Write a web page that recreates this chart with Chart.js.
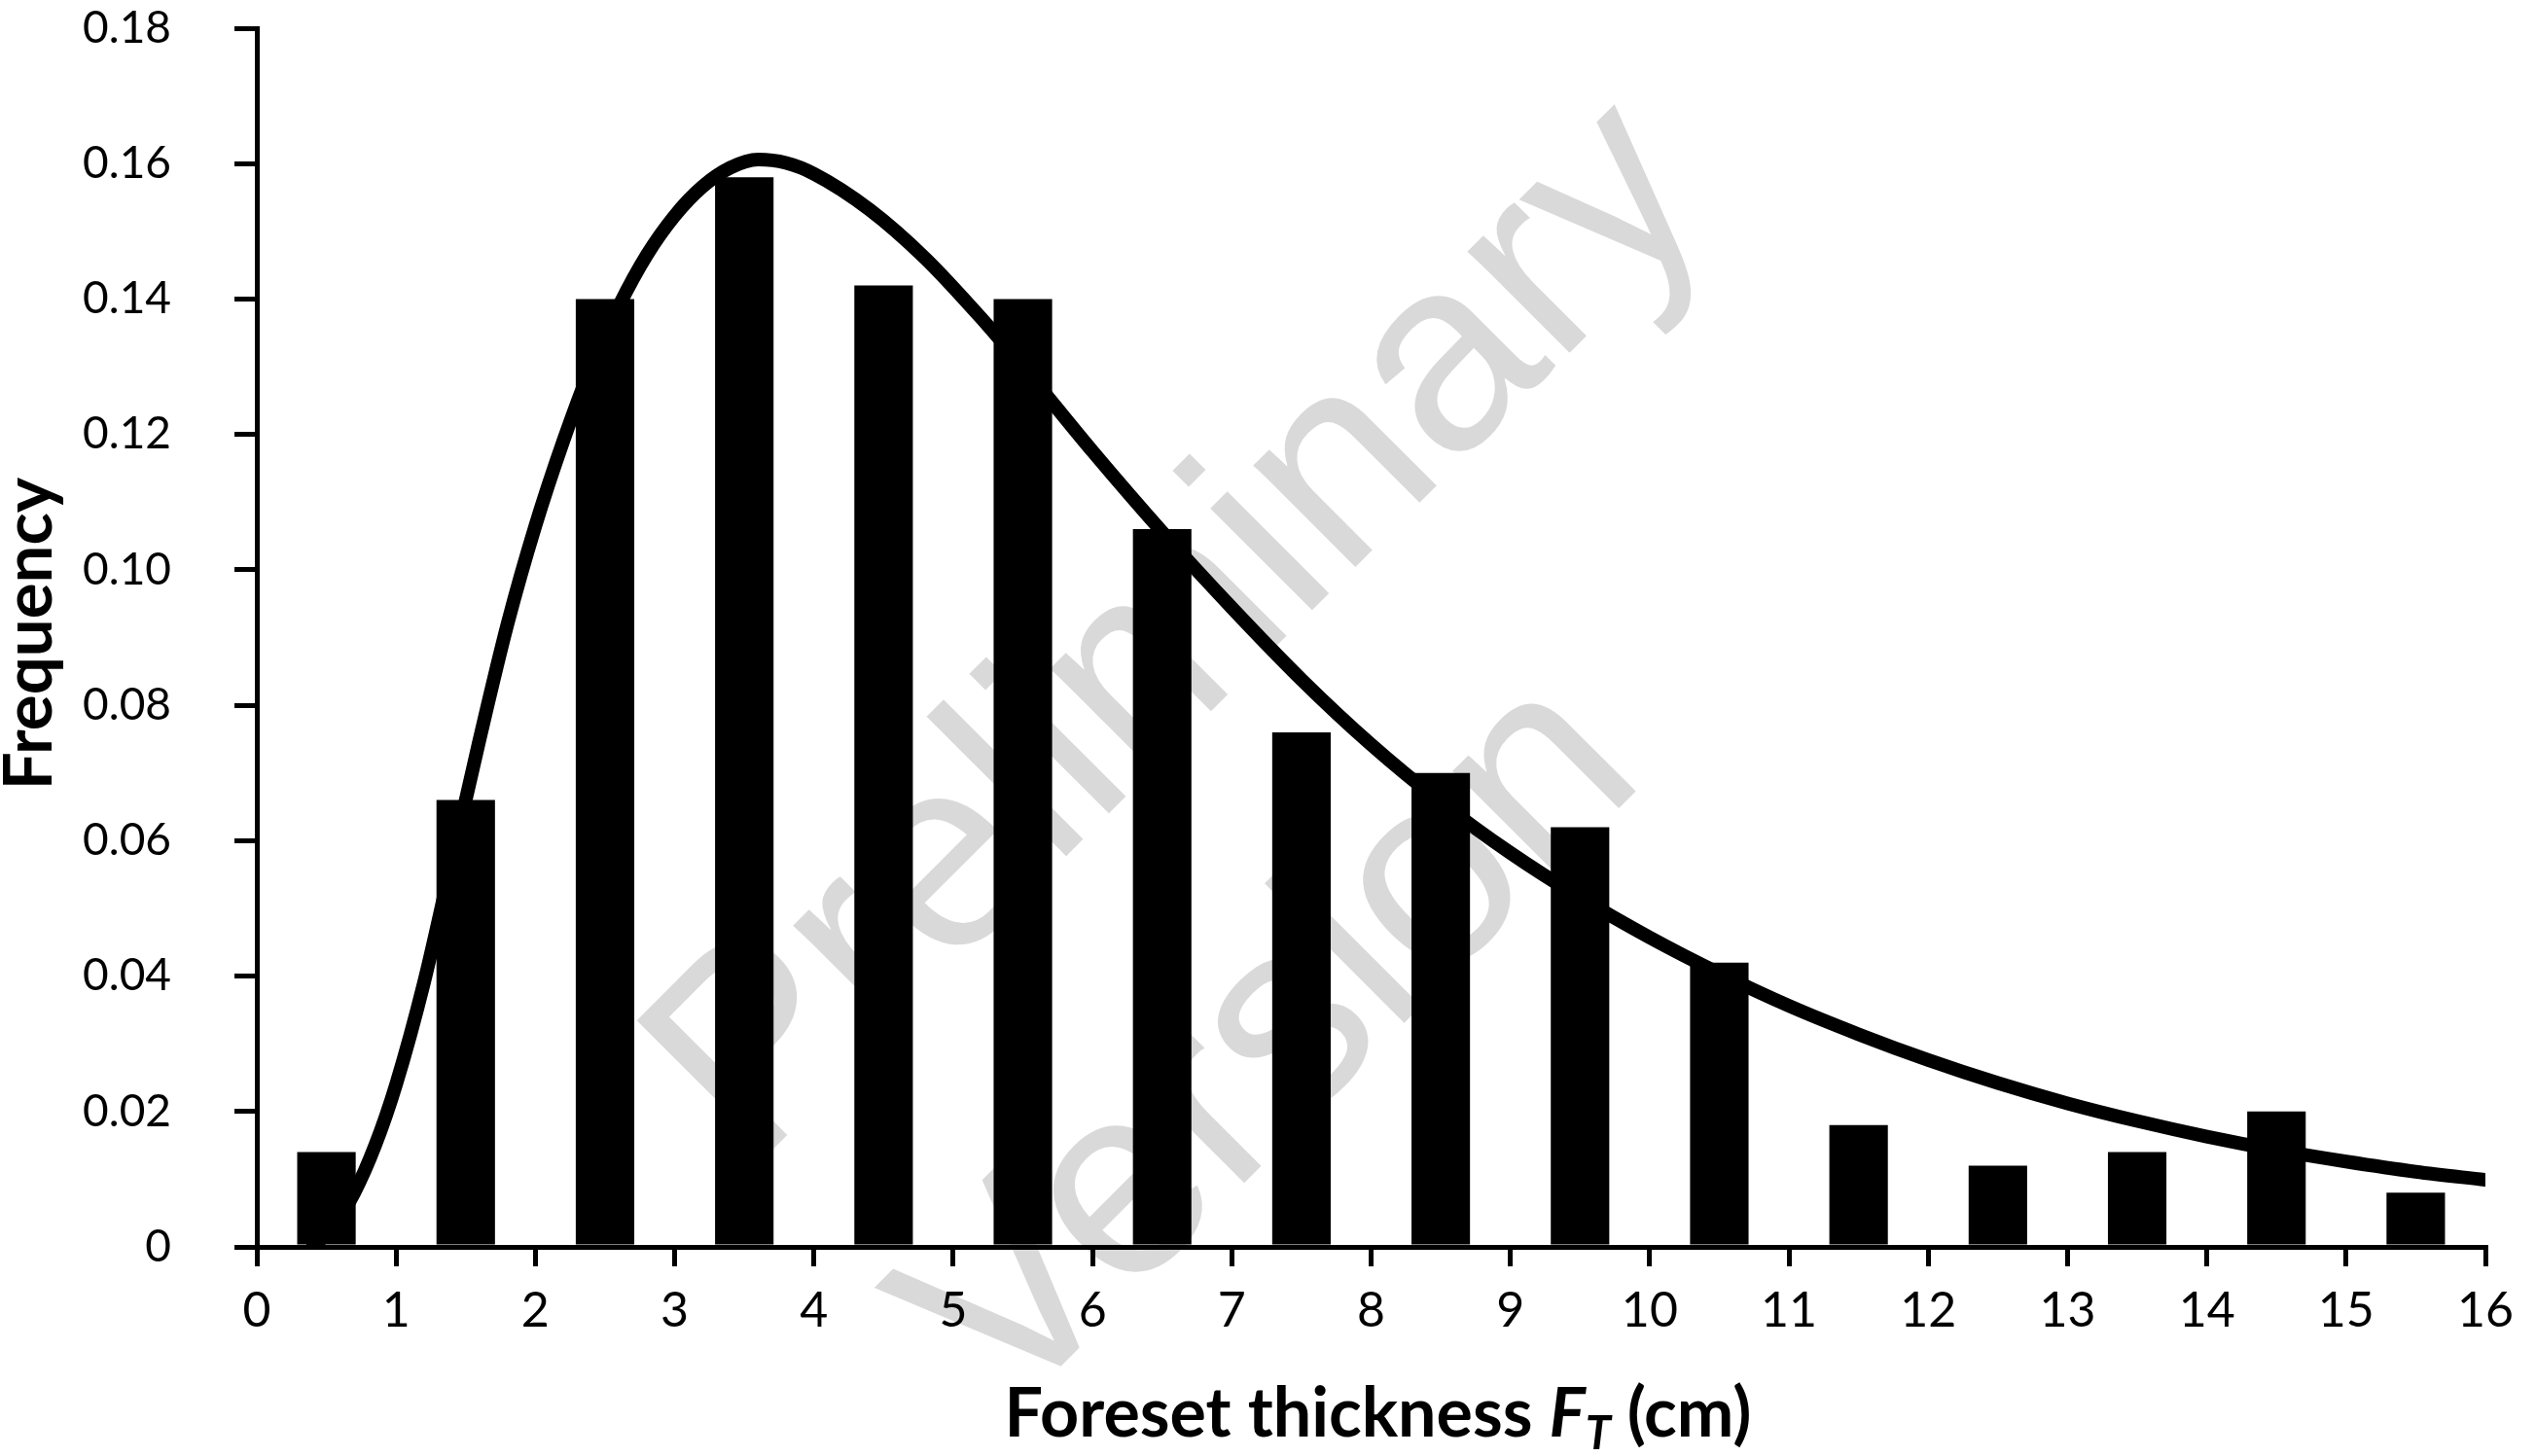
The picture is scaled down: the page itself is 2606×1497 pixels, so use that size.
<!DOCTYPE html>
<html>
<head>
<meta charset="utf-8">
<script src="https://cdn.jsdelivr.net/npm/chart.js@4.4.1/dist/chart.umd.min.js"></script>
<style>
  html, body { margin: 0; padding: 0; background: #fff; }
  #wrap { width: 2606px; height: 1497px; position: relative; }
</style>
</head>
<body>
<div id="wrap"><canvas id="chart"></canvas></div>
<script>
// histogram bins (cm) and their frequencies
const binCenters = [0.5, 1.5, 2.5, 3.5, 4.5, 5.5, 6.5, 7.5, 8.5, 9.5, 10.5, 11.5, 12.5, 13.5, 14.5, 15.5];
const frequency  = [0.014, 0.066, 0.140, 0.158, 0.142, 0.140, 0.106, 0.076, 0.070, 0.062, 0.042, 0.018, 0.012, 0.014, 0.020, 0.008];

// fitted curve, sampled by eye along the drawn line
const fitX = [0.4, 0.55, 0.7, 0.85, 1.0, 1.2, 1.4, 1.6, 1.8, 2.0, 2.2, 2.4, 2.6, 2.8, 3.0, 3.2, 3.4, 3.6, 3.8, 4.0, 4.4, 4.8, 5.2, 5.5, 6.0, 6.5, 7.0, 7.5, 8.0, 8.5, 9.0, 9.5, 10.0, 10.5, 11.0, 11.5, 12.0, 12.5, 13.0, 13.5, 14.0, 14.5, 15.0, 15.5, 16.0];
const fitY = [0, 0.003, 0.008, 0.015, 0.024, 0.039, 0.057, 0.075, 0.092, 0.1065, 0.119, 0.130, 0.139, 0.1465, 0.1523, 0.1566, 0.1594, 0.1606, 0.1601, 0.1585, 0.1532, 0.1460, 0.1372, 0.1300, 0.1175, 0.1056, 0.0944, 0.0838, 0.0742, 0.0657, 0.0582, 0.0516, 0.0457, 0.0404, 0.0356, 0.0314, 0.0276, 0.0242, 0.0212, 0.0186, 0.0163, 0.0143, 0.0126, 0.0111, 0.0099];

const xRange = [0, 16];
const yRange = [0, 0.18];
const yStep = 0.02;

const xTitle = ['Foreset thickness ', 'F', 'T', ' (cm)'];
const yTitle = 'Frequency';
const watermark = ['Preliminary', 'Version'];

// titles (mixed italic/subscript) and the grey watermark are drawn by hand
const extras = {
  id: 'extras',
  beforeDraw(chart) {
    const ctx = chart.ctx;
    ctx.save();
    ctx.fillStyle = '#fff';
    ctx.fillRect(0, 0, chart.width, chart.height);
    ctx.translate(720, 1147);
    ctx.rotate(-Math.PI / 4);
    ctx.fillStyle = '#d9d9d9';
    ctx.font = '280px "Liberation Sans", Arial, sans-serif';
    ctx.textAlign = 'left';
    ctx.textBaseline = 'middle';
    ctx.fillText(watermark[0], 0, 0);
    ctx.fillText(watermark[1], 0, 367);
    ctx.restore();
  },
  afterDraw(chart) {
    const ctx = chart.ctx;
    const area = chart.chartArea;
    ctx.save();
    ctx.fillStyle = '#000';
    ctx.textBaseline = 'alphabetic';
    ctx.textAlign = 'left';

    // x title
    const big = 'bold 70px Lato, sans-serif';
    const bigIt = 'italic bold 70px Lato, sans-serif';
    const subIt = 'italic bold 47px Lato, sans-serif';
    const parts = [[xTitle[0], big, 0], [xTitle[1], bigIt, 0], [xTitle[2], subIt, 13], [xTitle[3], big, 0]];
    let total = 0;
    parts.forEach(p => { ctx.font = p[1]; total += ctx.measureText(p[0]).width; });
    let x = (area.left + area.right) / 2 + 7 - total / 2;
    const base = area.bottom + 195;
    parts.forEach(p => {
      ctx.font = p[1];
      ctx.fillText(p[0], x, base + p[2]);
      x += ctx.measureText(p[0]).width;
    });

    // y title
    ctx.translate(53, (area.top + area.bottom) / 2 - 4);
    ctx.rotate(-Math.PI / 2);
    ctx.textAlign = 'center';
    ctx.font = 'bold 69px Lato, sans-serif';
    ctx.fillText(yTitle, 0, 0);
    ctx.restore();
  }
};

const axisStyle = {
  grid: { drawOnChartArea: false, drawTicks: true, color: '#000', lineWidth: 5, offset: false },
  border: { display: true, color: '#000', width: 5 }
};

new Chart(document.getElementById('chart'), {
  type: 'bar',
  data: {
    datasets: [
      {
        type: 'line',
        order: 0,
        data: fitX.map((v, i) => ({ x: v, y: fitY[i] })),
        borderColor: '#000',
        borderWidth: 14,
        borderCapStyle: 'round',
        borderJoinStyle: 'round',
        pointRadius: 0,
        cubicInterpolationMode: 'monotone',
        fill: false
      },
      {
        type: 'bar',
        order: 1,
        data: binCenters.map((v, i) => ({ x: v, y: frequency[i] })),
        backgroundColor: '#000',
        borderWidth: 0,
        categoryPercentage: 1,
        barPercentage: 0.42
      }
    ]
  },
  options: {
    responsive: true,
    maintainAspectRatio: false,
    animation: false,
    layout: { padding: { top: 29, right: 51, left: 0, bottom: 0 } },
    plugins: { legend: { display: false }, tooltip: { enabled: false } },
    scales: {
      x: {
        type: 'linear',
        min: xRange[0],
        max: xRange[1],
        offset: false,
        grid: { ...axisStyle.grid, tickLength: 20 },
        border: axisStyle.border,
        ticks: { stepSize: 1, color: '#000', font: { family: 'Lato', size: 50 }, padding: 16, maxRotation: 0 },
        afterFit(scale) {
          scale.height = 215;
          scale.paddingLeft = 0;
          scale.paddingRight = 0;
        }
      },
      y: {
        min: yRange[0],
        max: yRange[1],
        grid: { ...axisStyle.grid, tickLength: 23 },
        border: axisStyle.border,
        ticks: {
          stepSize: yStep,
          color: '#000',
          font: { family: 'Lato', size: 46 },
          padding: 65,
          callback: v => (v === 0 ? '0' : v.toFixed(2))
        },
        afterFit(scale) {
          scale.width = 264;
          scale.paddingTop = 0;
          scale.paddingBottom = 0;
        }
      }
    }
  },
  plugins: [extras]
});
</script>
</body>
</html>
